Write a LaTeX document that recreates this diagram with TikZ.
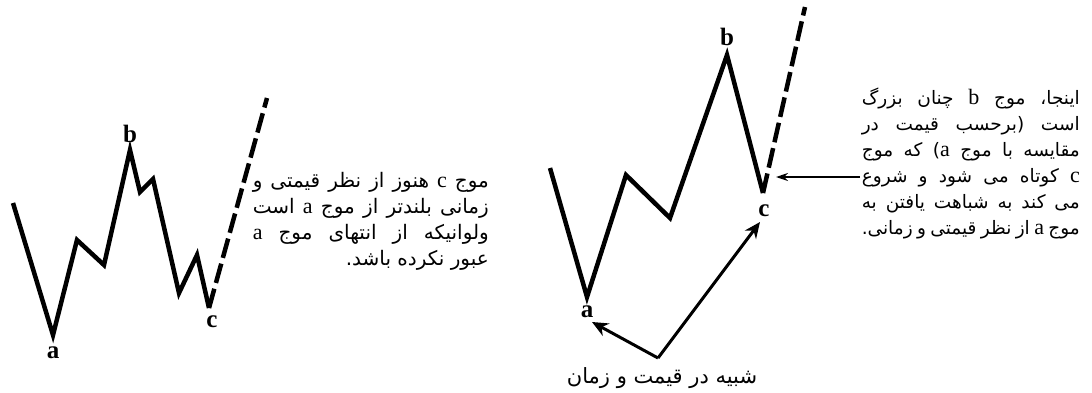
\documentclass[tikz,border=0pt]{standalone}
\usepackage{fontspec}
\setmainfont{Liberation Serif}
\newfontfamily\arabicfont[Script=Arabic]{DejaVu Sans}
\TeXXeTstate=1
\usetikzlibrary{arrows.meta}
\newcommand{\jl}[2]{\hbox to #1{\arabicfont #2}}
\newcommand{\lt}[1]{\beginL{\rmfamily\fontsize{22}{26}\selectfont #1}\endL}
\begin{document}
\begin{tikzpicture}[x=1pt,y=-1pt,
  wave/.style={line width=4.5pt, line join=miter, line cap=butt},
  dashwave/.style={line width=4.5pt, dash pattern=on 20pt off 6pt},
  lbl/.style={font=\fontsize{25}{25}\selectfont\bfseries, inner sep=0pt},
  lpara/.style={font=\fontsize{20}{26}\selectfont\arabicfont, align=right, inner sep=0pt},
  rpara/.style={font=\fontsize{18.5}{26}\selectfont\arabicfont, align=right, inner sep=0pt},
  arr/.style={line width=3pt, -{Stealth[length=16pt,width=14pt]}},
  harr/.style={line width=2pt, -{Stealth[length=12pt,width=8pt]}}]
\useasboundingbox (0,0) rectangle (1092,392);
% left wave
\coordinate (L0) at (13,203);
\coordinate (La) at (53,335);
\coordinate (L1) at (77,240);
\coordinate (L2) at (104,265);
\coordinate (Lb) at (130,150);
\coordinate (L3) at (140,192);
\coordinate (L4) at (153,179);
\coordinate (L5) at (179,293);
\coordinate (L6) at (197,255);
\coordinate (Lc) at (209,308);
\coordinate (Lend) at (267,98);
\draw[wave] (L0) -- (La) -- (L1) -- (L2) -- (Lb) -- (L3) -- (L4) -- (L5) -- (L6) -- (Lc);
\draw[dashwave] (Lc) -- (Lend);
\node[lbl] (la) at (53,353) {a};
\node[lbl] (lb) at (130,134) {b};
\node[lbl] (lc) at (212,322) {c};
\node[lpara, anchor=north east] (ltext) at (489,172) {%
\jl{236pt}{\beginR موج \lt{c} هنوز از نظر قیمتی و\endR}\\
\jl{236pt}{\beginR زمانی بلندتر از موج \lt{a} است\endR}\\
\jl{236pt}{\beginR ولوانیکه  از انتهای موج \lt{a}\endR}\\
\beginR عبور نکرده باشد.\endR};
% right wave
\coordinate (R0) at (550,168);
\coordinate (Ra) at (587,297);
\coordinate (R1) at (626,175);
\coordinate (R2) at (670,218);
\coordinate (Rb) at (727,55);
\coordinate (Rc) at (763,193);
\coordinate (Rend) at (805,7);
\draw[wave] (R0) -- (Ra) -- (R1) -- (R2) -- (Rb) -- (Rc);
\draw[dashwave] (Rc) -- (Rend);
\node[lbl] (ra) at (587,312) {a};
\node[lbl] (rb) at (727,37) {b};
\node[lbl] (rc) at (764,211) {c};
\coordinate (V) at (658,358);
\draw[arr] (V) -- (592,322);
\draw[arr] (V) -- (760,222);
\node[font=\fontsize{21}{24}\selectfont\arabicfont, inner sep=0pt] (sim) at (662,378) {\beginR شبیه در قیمت و زمان\endR};
\node[rpara, anchor=north east] (rtext) at (1080,88) {%
\jl{218pt}{\beginR اینجا، موج \lt{b} چنان بزرگ\endR}\\
\jl{218pt}{\beginR است (برحسب قیمت در\endR}\\
\jl{218pt}{\beginR مقایسه با موج \lt{a}) که موج\endR}\\
\jl{218pt}{\beginR \lt{c} کوتاه می شود و شروع\endR}\\
\jl{218pt}{\beginR می کند به شباهت یافتن به\endR}\\
\jl{218pt}{\beginR موج \lt{a} از نظر قیمتی و زمانی.\endR}};
\coordinate (H) at (860,177);
\draw[harr] (H) -- (776,177);
\end{tikzpicture}
\end{document}
